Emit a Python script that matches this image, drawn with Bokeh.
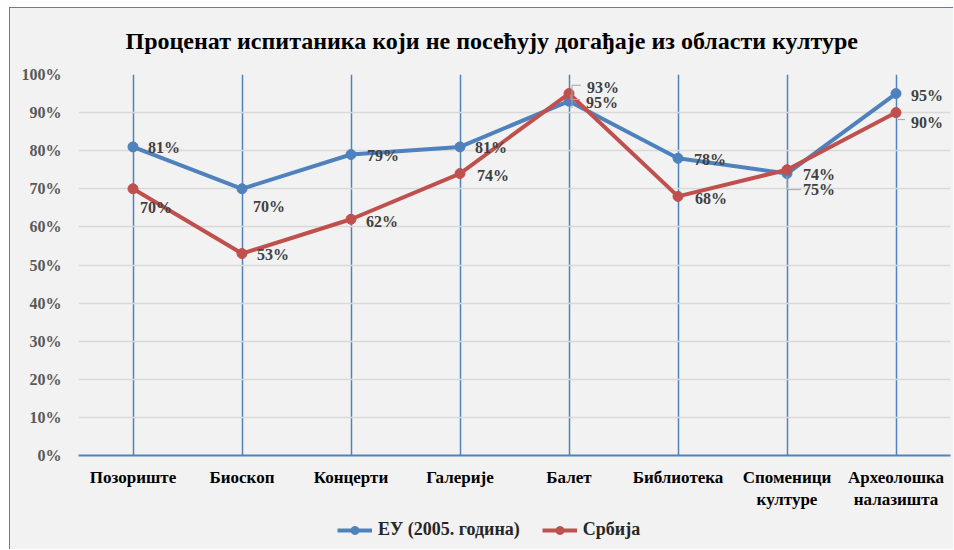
from bokeh.plotting import figure
from bokeh.layouts import column
from bokeh.models import Range1d, FixedTicker, NumeralTickFormatter, Legend, LegendItem
from bokeh.embed import file_html
from bokeh.resources import INLINE
from bokeh.core.properties import value

# ---- data ----
categories = ["Позориште", "Биоскоп", "Концерти", "Галерије", "Балет",
              "Библиотека", "Споменици културе", "Археолошка налазишта"]
tick_texts = ["Позориште", "Биоскоп", "Концерти", "Галерије", "Балет",
              "Библиотека", "Споменици\nкултуре", "Археолошка\nналазишта"]
eu_values = [81, 70, 79, 81, 93, 78, 74, 95]
srb_values = [70, 53, 62, 74, 95, 68, 75, 90]
series_names = ["ЕУ (2005. година)", "Србија"]
title_text = "Проценат испитаника који не посећују догађаје из области културе"
y_ticks = [0, 0.1, 0.2, 0.3, 0.4, 0.5, 0.6, 0.7, 0.8, 0.9, 1.0]

# ---- style / layout ----
BLUE = "#4F81BD"
RED = "#C0504D"
BG = "#F2F2F2"
FONT = "Liberation Serif"
W, H = 944, 504
H2 = 38
ML, MR, MT, MB = 68, 4, 64, 57
frame_w = W - ML - MR
frame_h = H - MT - MB
n = len(categories)
px_x = n / frame_w        # data units per pixel (x)
px_y = 1.0 / frame_h      # data units per pixel (y)

# label pixel offsets (right / down)
eu_dx = [15, 11, 16, 15, 18, 16, 16, 15]
eu_dy = [1, 18, 1, 1, -14, 1, 1, 2]
srb_dx = [7, 15, 15, 17, 17, 17, 16, 15]
srb_dy = [19, 1, 2, 2, 9, 2, 20, 10]

p = figure(width=W, height=H, output_backend="svg", toolbar_location=None,
           x_range=Range1d(0, n), y_range=Range1d(0, 1),
           min_border_left=ML, min_border_right=MR,
           min_border_top=MT, min_border_bottom=MB,
           background_fill_color=BG, border_fill_color=BG)
p.outline_line_color = None
p.styles = {"border-left": f"1px solid {BLUE}", "border-top": f"1px solid {BLUE}"}

xs = [i + 0.5 for i in range(n)]
eu = [v / 100 for v in eu_values]
srb = [v / 100 for v in srb_values]

# title
p.title.text = title_text
p.title.text_font = FONT
p.title.text_font_style = "bold"
p.title.text_font_size = "24px"
p.title.text_color = "#000000"
p.title.align = "left"
p.title.vertical_align = "top"
p.title.offset = 47
p.title.standoff = 38

# axes
p.xaxis.ticker = FixedTicker(ticks=xs)
p.xaxis.major_label_overrides = {x: t for x, t in zip(xs, tick_texts)}
p.xaxis.major_tick_line_color = None
p.xaxis.minor_tick_line_color = None
p.xaxis.axis_line_color = BLUE
p.xaxis.axis_line_width = 2
p.xaxis.major_label_text_font = FONT
p.xaxis.major_label_text_font_style = "bold"
p.xaxis.major_label_text_font_size = "17px"
p.xaxis.major_label_text_color = "#000000"
p.xaxis.major_label_standoff = 6

p.yaxis.ticker = FixedTicker(ticks=y_ticks)
p.yaxis.formatter = NumeralTickFormatter(format="0%")
p.yaxis.axis_line_color = None
p.yaxis.major_tick_line_color = None
p.yaxis.minor_tick_line_color = None
p.yaxis.major_label_text_font = FONT
p.yaxis.major_label_text_font_style = "bold"
p.yaxis.major_label_text_font_size = "16px"
p.yaxis.major_label_text_color = "#595959"
p.yaxis.major_label_standoff = 11

p.xgrid.ticker = FixedTicker(ticks=xs)
p.xgrid.grid_line_color = BLUE
p.xgrid.grid_line_width = 1.5
p.ygrid.grid_line_color = "#D9D9D9"
p.ygrid.grid_line_width = 1.5

# series
p.line(xs, eu, line_width=4, color=BLUE)
p.scatter(xs, eu, size=10, color=BLUE)
p.line(xs, srb, line_width=4, color=RED)
p.scatter(xs, srb, size=10, color=RED)

# leader lines (pixel offsets from points)
leaders = [
    (4, eu[4], [(3, 7), (3, -16), (12, -16)]),
    (4, srb[4], [(2, 1), (2, 6), (11, 6)]),
    (6, srb[6], [(0, 6), (0, 20), (14, 20)]),
    (7, srb[7], [(2, 7), (9, 7)]),
]
lx, ly = [], []
for i, v, pts in leaders:
    lx.append([xs[i] + dx * px_x for dx, dy in pts])
    ly.append([v - dy * px_y for dx, dy in pts])
p.multi_line(lx, ly, line_color="#A6A6A6", line_width=1)

# data labels
lab_font = dict(text_font=value(FONT), text_font_style="bold", text_font_size="16px",
                text_color="#404040", text_align="left", text_baseline="middle")
p.text(xs, eu, text=[f"{v}%" for v in eu_values], x_offset=eu_dx, y_offset=eu_dy, **lab_font)
p.text(xs, srb, text=[f"{v}%" for v in srb_values], x_offset=srb_dx, y_offset=srb_dy, **lab_font)

# legend strip (series keys drawn out of view; legend shows their styles)
p2 = figure(width=W, height=H2, output_backend="svg", toolbar_location=None,
            x_range=Range1d(0, n), y_range=Range1d(10, 11),
            min_border_left=ML, min_border_right=MR, min_border_top=0, min_border_bottom=0,
            background_fill_color=BG, border_fill_color=BG)
p2.background_fill_alpha = 0
p2.outline_line_color = None
p2.axis.visible = False
p2.grid.visible = False
p2.styles = {"border-left": f"1px solid {BLUE}"}
k1l = p2.line(xs, eu, line_width=4, color=BLUE)
k1c = p2.scatter(xs, eu, size=10, color=BLUE)
k2l = p2.line(xs, srb, line_width=4, color=RED)
k2c = p2.scatter(xs, srb, size=10, color=RED)

legend = Legend(items=[LegendItem(label=series_names[0], renderers=[k1l, k1c]),
                       LegendItem(label=series_names[1], renderers=[k2l, k2c])],
                orientation="horizontal", location=(259, 9))
legend.background_fill_alpha = 0
legend.border_line_color = None
legend.padding = 0
legend.margin = 0
legend.spacing = 22
legend.label_standoff = 6
legend.glyph_width = 35
legend.glyph_height = 20
legend.label_text_font = FONT
legend.label_text_font_style = "bold"
legend.label_text_font_size = "18px"
legend.label_text_color = "#262626"
p2.add_layout(legend, "center")

layout = column(p, p2, spacing=0)
layout.margin = (7, 0, 0, 9)
layout.styles = {"background-color": BG}

open("out.html", "w").write(file_html(layout, INLINE))
